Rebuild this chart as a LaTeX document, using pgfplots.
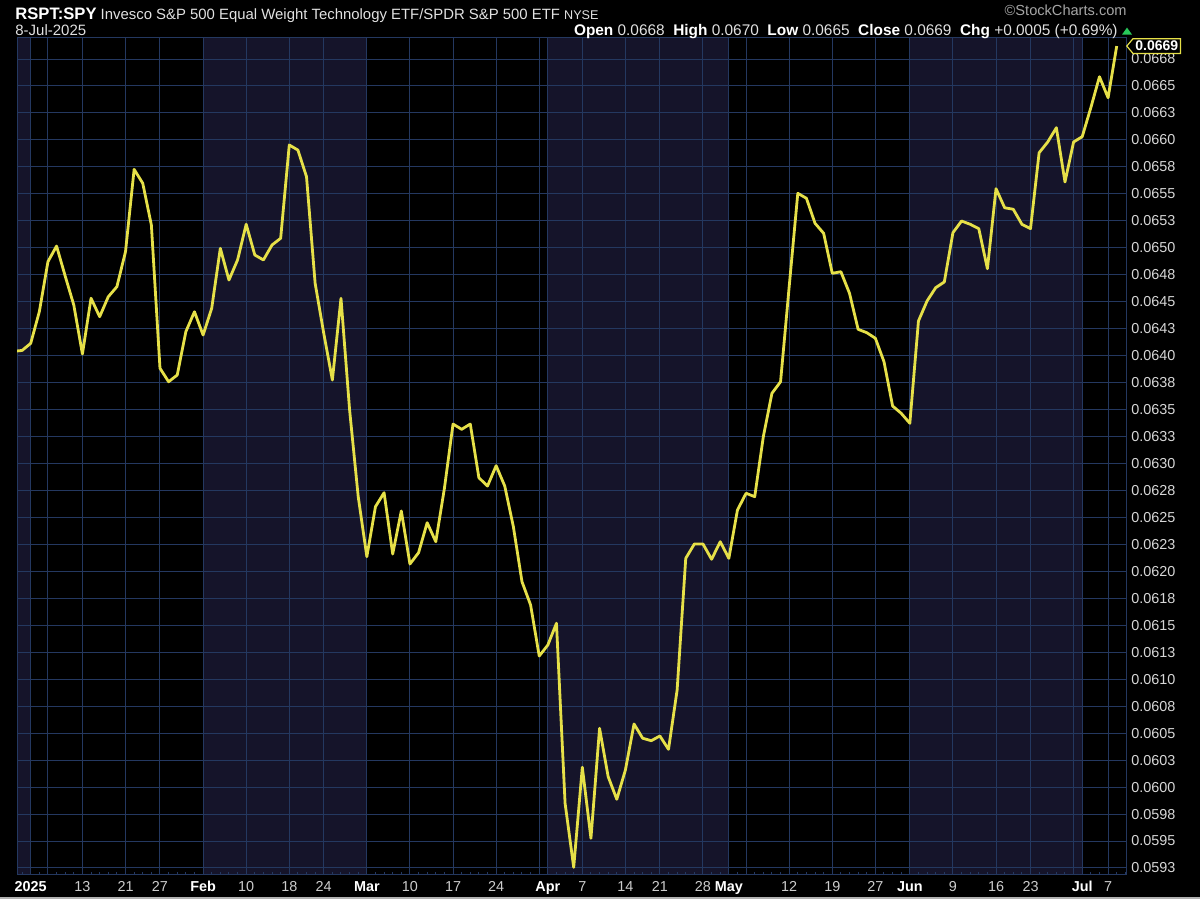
\documentclass[border=0pt]{standalone}
\usepackage{pgfplots}
\pgfplotsset{compat=1.18}
\usepackage{fontspec}
\setmainfont{Liberation Sans}
\usetikzlibrary{shapes.symbols}
\definecolor{bandc}{RGB}{21,20,42}
\definecolor{gridc}{RGB}{36,56,96}
\definecolor{linec}{RGB}{230,224,72}
\definecolor{daylbl}{RGB}{205,205,205}
\definecolor{ylbl}{RGB}{215,215,215}
\definecolor{hdr}{RGB}{225,225,225}
\definecolor{upgreen}{RGB}{40,200,90}
\newcommand{\fs}[1]{\fontsize{#1}{#1}\selectfont}
\newcommand{\mb}[1]{\textcolor{white}{\textbf{#1}}}

\pgfplotstableread{
idx val
-2 0.064040
-1 0.064048
0 0.064114
1 0.064407
2 0.064871
3 0.065016
4 0.064738
5 0.064469
6 0.064015
7 0.064532
8 0.064361
9 0.064546
10 0.064639
11 0.064964
12 0.065727
13 0.065598
14 0.065211
15 0.063883
16 0.063758
17 0.063820
18 0.064222
19 0.064407
20 0.064191
21 0.064439
22 0.064995
23 0.064701
24 0.064887
25 0.065218
26 0.064933
27 0.064887
28 0.065026
29 0.065088
30 0.065953
31 0.065906
32 0.065659
33 0.064671
34 0.064207
35 0.063774
36 0.064532
37 0.063496
38 0.062692
39 0.062136
40 0.062600
41 0.062729
42 0.062161
43 0.062560
44 0.062068
45 0.062173
46 0.062451
47 0.062275
48 0.062770
49 0.063366
50 0.063317
51 0.063366
52 0.062868
53 0.062791
54 0.062980
55 0.062791
56 0.062414
57 0.061904
58 0.061688
59 0.061215
60 0.061317
61 0.061519
62 0.059850
63 0.059256
64 0.060184
65 0.059525
66 0.060545
67 0.060096
68 0.059887
69 0.060159
70 0.060585
71 0.060453
72 0.060430
73 0.060474
74 0.060350
75 0.060900
76 0.062121
77 0.062254
78 0.062254
79 0.062112
80 0.062275
81 0.062121
82 0.062569
83 0.062724
84 0.062692
85 0.063248
86 0.063651
87 0.063758
88 0.064639
89 0.065505
90 0.065459
91 0.065227
92 0.065134
93 0.064763
94 0.064778
95 0.064578
96 0.064244
97 0.064213
98 0.064161
99 0.063944
100 0.063533
101 0.063465
102 0.063373
103 0.064321
104 0.064507
105 0.064630
106 0.064683
107 0.065140
108 0.065248
109 0.065218
110 0.065177
111 0.064806
112 0.065548
113 0.065371
114 0.065357
115 0.065218
116 0.065177
117 0.065881
118 0.065981
119 0.066113
120 0.065610
121 0.065981
122 0.066030
123 0.066299
124 0.066586
125 0.066391
126 0.066870
}\ratiodata

\begin{document}
\begin{tikzpicture}
\pgfplotsset{set layers}
\begin{pgfonlayer}{axis background}
\fill[black] (0,0) rectangle (600pt,449.5pt);
\fill[black!30] (0,0) rectangle (600pt,1pt);
\end{pgfonlayer}
\begin{axis}[
  set layers,
  at={(8.5pt,12pt)}, anchor=south west,
  scale only axis, width=554.5pt, height=418.5pt,
  xmin=-1.59, xmax=127.08,
  ymin=0.059185, ymax=0.066945,
  axis line style={gridc, line width=0.5pt},
  grid=major,
  major grid style={gridc, line width=0.5pt},
  xtick={0,2,6,11,15,20,25,30,34,39,44,49,54,59,60,64,69,73,78,81,83,88,93,98,102,107,112,116,121,122,125},
  xticklabels={\mb{2025},,13,21,27,\mb{Feb},10,18,24,\mb{Mar},10,17,24,,\mb{Apr},7,14,21,28,\mb{May},,12,19,27,\mb{Jun},9,16,23,,\mb{Jul},7},
  minor xtick={-1,0,...,127},
  xtick pos=lower, ytick pos=right,
  major tick length=0pt, minor tick length=1.5pt,
  every tick/.style={gridc, line width=0.5pt},
  xticklabel style={font=\fs{7.2pt}, text=daylbl, anchor=base, yshift=-8.3pt, inner sep=0pt},
  ytick={0.05925,0.0595,0.05975,0.06,0.06025,0.0605,0.06075,0.061,0.06125,0.0615,0.06175,0.062,0.06225,0.0625,0.06275,0.063,0.06325,0.0635,0.06375,0.064,0.06425,0.0645,0.06475,0.065,0.06525,0.0655,0.06575,0.066,0.06625,0.0665,0.06675},
  yticklabels={0.0593,0.0595,0.0598,0.0600,0.0603,0.0605,0.0608,0.0610,0.0613,0.0615,0.0618,0.0620,0.0623,0.0625,0.0628,0.0630,0.0633,0.0635,0.0638,0.0640,0.0643,0.0645,0.0648,0.0650,0.0653,0.0655,0.0658,0.0660,0.0663,0.0665,0.0668},
  yticklabel pos=right,
  yticklabel style={font=\fs{7.2pt}, text=ylbl, anchor=west, inner sep=0pt, xshift=2.5pt},
  scaled y ticks=false,
]
\addplot[draw=none, fill=bandc, on layer=axis background, forget plot] coordinates {(-1.59,0.059185) (0,0.059185) (0,0.066945) (-1.59,0.066945)} -- cycle;
\addplot[draw=none, fill=bandc, on layer=axis background, forget plot] coordinates {(20,0.059185) (39,0.059185) (39,0.066945) (20,0.066945)} -- cycle;
\addplot[draw=none, fill=bandc, on layer=axis background, forget plot] coordinates {(60,0.059185) (81,0.059185) (81,0.066945) (60,0.066945)} -- cycle;
\addplot[draw=none, fill=bandc, on layer=axis background, forget plot] coordinates {(102,0.059185) (122,0.059185) (122,0.066945) (102,0.066945)} -- cycle;
\addplot[linec, line width=1.4pt, line join=round, no marks] table[x=idx, y=val] {\ratiodata};
\coordinate (tag) at (axis cs:127.08,0.06687);
\end{axis}
\node[shape=signal, signal to=west, signal pointer angle=100, draw=linec, fill=black, line width=0.6pt,
      text=white, font=\fs{7pt}\bfseries, inner xsep=1.2pt, inner ysep=1.2pt, anchor=west]
  at (tag) {0.0669};
% header
\node[anchor=base west, inner sep=0pt, text=hdr] at (7.5pt,439.8pt)
  {\textcolor{white}{\fs{8.3pt}\bfseries RSPT:SPY}\fs{7.45pt} Invesco S\&P 500 Equal Weight Technology ETF/SPDR S\&P 500 ETF \fs{6.3pt}NYSE};
\node[anchor=base west, inner sep=0pt, text=hdr, font=\fs{7.5pt}] at (7.5pt,431.5pt) {8-Jul-2025};
\node[anchor=base east, inner sep=0pt, text=hdr, font=\fs{7.7pt}] at (559pt,431.5pt)
  {\mb{Open} 0.0668\ \ \mb{High} 0.0670\ \ \mb{Low} 0.0665\ \ \mb{Close} 0.0669\ \ \mb{Chg} +0.0005 (+0.69\%)};
\fill[upgreen] (561pt,432.2pt) -- (566pt,432.2pt) -- (563.5pt,435.7pt) -- cycle;
\node[anchor=base east, inner sep=0pt, text=black!35, font=\fs{7.3pt}] at (563.5pt,441.5pt) {\textcopyright StockCharts.com};
\end{tikzpicture}
\end{document}
